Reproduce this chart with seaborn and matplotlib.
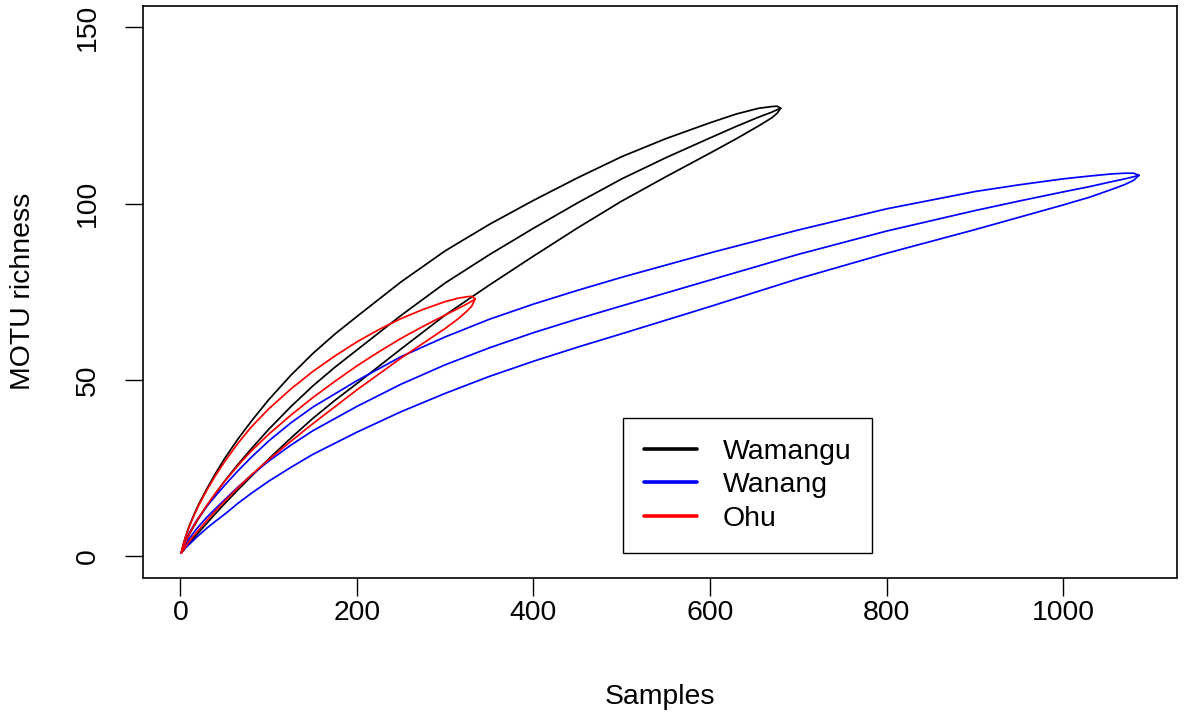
import matplotlib
matplotlib.use("Agg")
import matplotlib.pyplot as plt
import seaborn as sns
import pandas as pd
from matplotlib.lines import Line2D

# ---- data ----
groups = ["Wamangu", "Wanang", "Ohu"]
colors = {"Wamangu": "#000000", "Wanang": "#0000FF", "Ohu": "#FF0000"}

x_wamangu = [1, 3, 6, 10, 15, 20, 30, 40, 50, 65, 80, 100, 125, 150, 175, 200, 250, 300,
             350, 400, 450, 500, 550, 600, 630, 655, 670, 676, 680]
mean_wamangu = [1, 2.4, 4.1, 6.2, 8.4, 10.5, 14.3, 17.9, 21.3, 26.0, 30.4, 36.0, 42.4, 48.3,
                53.6, 58.5, 68.3, 77.5, 85.5, 93.0, 100.2, 107.0, 113.0, 118.6, 121.9, 124.5,
                125.9, 126.6, 127]
upper_wamangu = [1, 3.2, 5.7, 8.6, 11.6, 14.4, 19.2, 23.6, 27.7, 33.2, 38.2, 44.4, 51.3, 57.5,
                 63.0, 68.0, 77.8, 86.6, 94.1, 100.9, 107.3, 113.3, 118.4, 122.9, 125.4, 127.0,
                 127.5, 127.6, 127]
lower_wamangu = [1, 1.6, 2.5, 3.8, 5.2, 6.6, 9.4, 12.2, 14.9, 18.8, 22.6, 27.6, 33.5, 39.1,
                 44.2, 49.0, 58.8, 68.4, 76.9, 85.1, 93.1, 100.7, 107.6, 114.3, 118.4, 122.0,
                 124.3, 125.6, 127]

x_wanang = [1, 3, 6, 10, 15, 20, 30, 40, 50, 65, 80, 100, 125, 150, 200, 250, 300, 350, 400,
            450, 500, 600, 700, 800, 900, 950, 1000, 1030, 1055, 1070, 1080, 1086]
mean_wanang = [1, 2.1, 3.5, 5.0, 6.7, 8.3, 11.1, 13.6, 16.0, 19.6, 22.9, 27.0, 31.5, 35.6, 42.5,
               48.8, 54.3, 59.1, 63.4, 67.3, 71.0, 78.3, 85.6, 92.2, 98.0, 100.7, 103.3, 104.8,
               106.2, 107.0, 107.6, 108]
upper_wanang = [1, 2.6, 4.5, 6.6, 8.8, 10.8, 14.2, 17.2, 20.1, 24.2, 28.0, 32.7, 37.8, 42.3, 49.8,
                56.6, 62.2, 67.2, 71.5, 75.4, 79.1, 86.0, 92.5, 98.5, 103.4, 105.3, 107.0, 107.8,
                108.4, 108.6, 108.6, 108]
lower_wanang = [1, 1.6, 2.5, 3.4, 4.6, 5.8, 8.0, 10.0, 11.9, 15.0, 17.8, 21.3, 25.2, 28.9, 35.2,
                41.0, 46.2, 51.0, 55.3, 59.3, 63.1, 70.8, 78.7, 85.9, 92.6, 96.1, 99.6, 101.8,
                104.0, 105.4, 106.6, 108]

x_ohu = [1, 3, 6, 10, 15, 20, 30, 40, 50, 65, 80, 100, 125, 150, 175, 200, 225, 250, 275, 300,
         315, 325, 330, 334]
mean_ohu = [1, 2.4, 4.2, 6.3, 8.6, 10.7, 14.5, 18.0, 21.2, 25.7, 29.8, 34.6, 40.0, 45.0, 49.6,
            54.0, 58.0, 61.8, 65.2, 68.4, 70.3, 71.6, 72.3, 73]
upper_ohu = [1, 3.1, 5.6, 8.4, 11.4, 14.1, 18.8, 23.0, 26.8, 32.0, 36.6, 41.8, 47.4, 52.4, 56.8,
             60.8, 64.3, 67.4, 70.0, 72.2, 73.2, 73.6, 73.7, 73]
lower_ohu = [1, 1.7, 2.8, 4.2, 5.8, 7.3, 10.2, 13.0, 15.6, 19.4, 23.0, 27.4, 32.6, 37.6, 42.4,
             47.2, 51.7, 56.2, 60.4, 64.6, 67.4, 69.6, 70.9, 73]

x_ticks = [0, 200, 400, 600, 800, 1000]
y_ticks = [0, 50, 100, 150]

# ---- long table ----
rows = []
series = {
    "Wamangu": (x_wamangu, mean_wamangu, upper_wamangu, lower_wamangu),
    "Wanang": (x_wanang, mean_wanang, upper_wanang, lower_wanang),
    "Ohu": (x_ohu, mean_ohu, upper_ohu, lower_ohu),
}
for g, (xs, m, u, l) in series.items():
    for kind, ys in (("mean", m), ("upper", u), ("lower", l)):
        for xv, yv in zip(xs, ys):
            rows.append({"Samples": xv, "richness": yv, "site": g, "curve": g + kind})
df = pd.DataFrame(rows)

sns.set_theme(style="white")
plt.rcParams["font.family"] = ["Liberation Sans", "DejaVu Sans"]

fig = plt.figure(figsize=(11.84, 7.21), dpi=100)
W, H = 1184, 721
left, right, top, bottom = 143, 1177.3, 6, 577.5
ax = fig.add_axes([left / W, 1 - bottom / H, (right - left) / W, (bottom - top) / H])

sns.lineplot(data=df, x="Samples", y="richness", hue="site", units="curve",
             estimator=None, sort=False, palette=colors, hue_order=groups,
             linewidth=1.25, legend=False, ax=ax)

ax.set_xlim(-42.4, 1129.4)
ax.set_ylim(-6, 156)
ax.set_xticks(x_ticks)
ax.set_yticks(y_ticks)
ax.set_xticklabels([str(t) for t in x_ticks])
ax.set_yticklabels([str(t) for t in y_ticks])

fs = 20.4
for s in ax.spines.values():
    s.set_visible(True)
    s.set_color("black")
    s.set_linewidth(1.2)
ax.tick_params(axis="both", which="major", direction="out", length=13, width=1.0,
               color="black", labelsize=fs, labelcolor="black",
               bottom=True, left=True, top=False, right=False)
ax.tick_params(axis="x", pad=3)
ax.tick_params(axis="y", pad=17)
for lab in ax.get_yticklabels():
    lab.set_rotation(90)
    lab.set_va("center")
ax.grid(False)

ax.set_xlabel("Samples", fontsize=fs, color="black")
ax.set_ylabel("MOTU richness", fontsize=fs, color="black")
ax.xaxis.set_label_coords(0.5, (bottom - 697) / (bottom - top))
ax.xaxis.label.set_va("center")
ax.yaxis.set_label_coords((23 - left) / (right - left), 0.5)
ax.yaxis.label.set_va("center")

handles = [Line2D([], [], color=colors[g], linewidth=2.6) for g in groups]
leg = ax.legend(handles, groups, loc="lower left",
                bbox_to_anchor=((623 - left) / (right - left), (bottom - 553) / (bottom - top)),
                borderaxespad=0, frameon=True, fancybox=False, framealpha=1,
                edgecolor="black", fontsize=fs, handlelength=1.86, handletextpad=0.9,
                labelspacing=0.26, borderpad=0.75)
leg.get_frame().set_linewidth(1.0)
for t in leg.get_texts():
    t.set_color("black")

fig.savefig("out.png", dpi=100, facecolor="white")
